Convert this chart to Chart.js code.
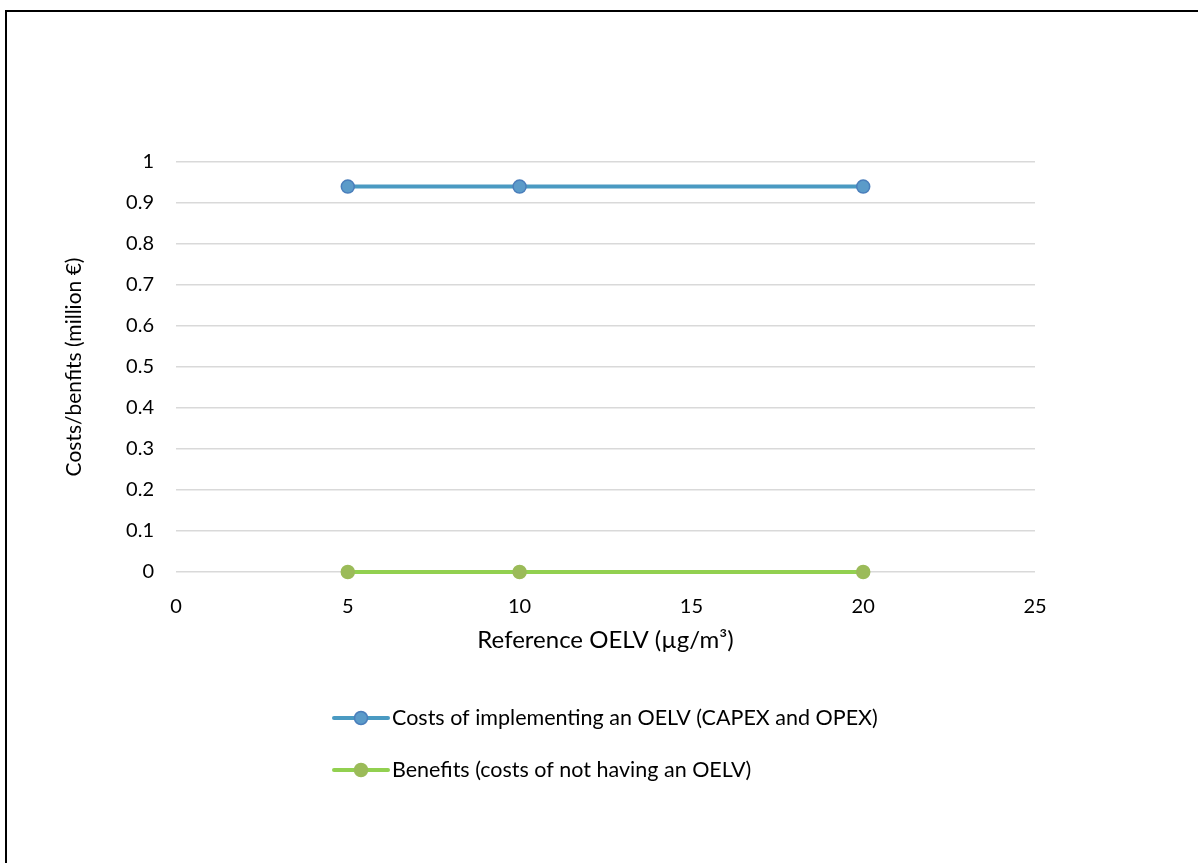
<!DOCTYPE html>
<html lang="en">
<head>
    <meta charset="UTF-8">
    <title>Costs vs benefits of an OELV</title>
    <style>
        body { margin: 0; background: #fff; }
        #wrap { position: relative; width: 1198px; height: 863px; overflow: hidden; }
        #frame { position: absolute; left: 5px; top: 10px; width: 1300px; height: 1000px;
                 border-top: 2px solid #000; border-left: 2px solid #000; pointer-events: none; }
    </style>
</head>
<body>
    <div id="wrap">
        <canvas id="oelvChart" width="1198" height="863"></canvas>
        <div id="frame"></div>
    </div>

    <script src="https://cdn.jsdelivr.net/npm/chart.js"></script>
    <script>
        // data
        const oelvLevels = [5, 10, 20];               // µg/m3
        const costValues = [0.94, 0.94, 0.94];        // million €
        const benefitValues = [0, 0, 0];              // million €
        const seriesNames = [
            'Costs of implementing an OELV (CAPEX and OPEX)',
            'Benefits (costs of not having an OELV)'
        ];
        const xTitle = 'Reference OELV (µg/m³)';
        const yTitle = 'Costs/benfits (million €)';

        const fontFamily = 'Lato, "Open Sans", sans-serif';

        // legend drawn as line + marker, stacked below the chart
        const lineLegend = {
            id: 'lineLegend',
            afterDraw(chart) {
                const ctx = chart.ctx;
                const startX = 334, startY = 718, rowGap = 52;
                chart.data.datasets.forEach((ds, i) => {
                    const y = startY + i * rowGap;
                    ctx.save();
                    ctx.strokeStyle = ds.borderColor;
                    ctx.lineWidth = 4;
                    ctx.lineCap = 'round';
                    ctx.beginPath();
                    ctx.moveTo(startX, y);
                    ctx.lineTo(startX + 54, y);
                    ctx.stroke();
                    ctx.beginPath();
                    ctx.arc(startX + 27, y, 6.5, 0, Math.PI * 2);
                    ctx.fillStyle = ds.pointBackgroundColor;
                    ctx.fill();
                    ctx.lineWidth = 1.5;
                    ctx.strokeStyle = ds.pointBorderColor;
                    ctx.stroke();
                    ctx.fillStyle = '#000';
                    ctx.font = '21.5px ' + fontFamily;
                    ctx.textBaseline = 'middle';
                    ctx.fillText(ds.label, startX + 58, y);
                    ctx.restore();
                });
            }
        };

        const ctx = document.getElementById('oelvChart').getContext('2d');
        new Chart(ctx, {
            type: 'line',
            data: {
                datasets: [{
                    label: seriesNames[0],
                    data: oelvLevels.map((x, i) => ({ x: x, y: costValues[i] })),
                    borderColor: '#4a9ac2',
                    borderWidth: 4,
                    pointRadius: 6.5,
                    pointBackgroundColor: '#5b9bc9',
                    pointBorderColor: '#4a7ebb',
                    pointBorderWidth: 1.5,
                    clip: false
                }, {
                    label: seriesNames[1],
                    data: oelvLevels.map((x, i) => ({ x: x, y: benefitValues[i] })),
                    borderColor: '#92d050',
                    borderWidth: 4,
                    pointRadius: 6.5,
                    pointBackgroundColor: '#9bbb59',
                    pointBorderColor: '#9bbb59',
                    pointBorderWidth: 1.5,
                    clip: false
                }]
            },
            options: {
                responsive: false,
                animation: false,
                layout: { padding: { top: 162, right: 163, bottom: 208, left: 60 } },
                plugins: { legend: { display: false }, tooltip: { enabled: false } },
                scales: {
                    x: {
                        type: 'linear',
                        min: 0, max: 25,
                        border: { display: false },
                        grid: { display: false, drawTicks: false },
                        ticks: { stepSize: 5, padding: 23, color: '#000', font: { family: fontFamily, size: 20 } },
                        title: { display: true, text: xTitle, color: '#000', padding: 0,
                                 font: { family: fontFamily, size: 24 } },
                        afterFit(scale) { scale.height = 83; }
                    },
                    y: {
                        min: 0, max: 1,
                        border: { display: false },
                        grid: { color: '#d9d9d9', lineWidth: 1.5, drawTicks: false },
                        ticks: { stepSize: 0.1, padding: 22, color: '#000', font: { family: fontFamily, size: 20 },
                                 callback: v => Math.round(v * 10) / 10 },
                        title: { display: true, text: yTitle, color: '#000', padding: { top: 2, bottom: 0 },
                                 font: { family: fontFamily, size: 21 } },
                        afterFit(scale) { scale.width = 116; }
                    }
                }
            },
            plugins: [lineLegend]
        });
    </script>
</body>
</html>
